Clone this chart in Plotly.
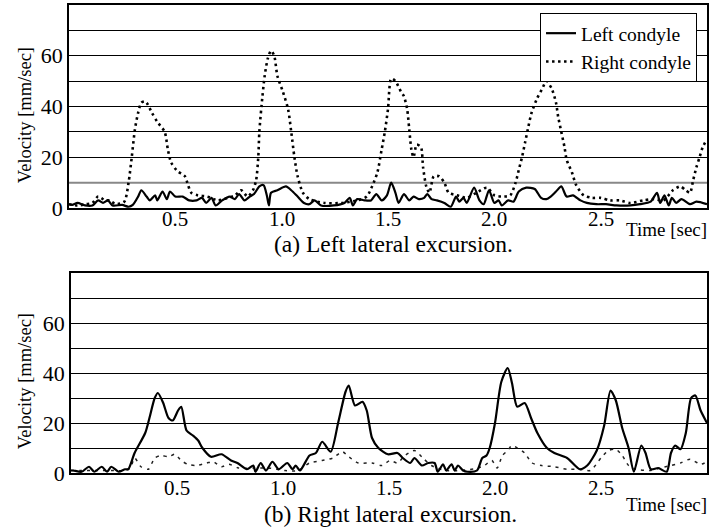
import plotly.graph_objects as go

# ---------------- data ----------------
# (a) Left lateral excursion
t_left_a = [0,0.015,0.04,0.075,0.11,0.137,0.16,0.183,0.205,0.25,0.28,0.3,0.325,0.34,0.365,0.38,0.405,0.415,0.44,0.46,
            0.475,0.5,0.535,0.565,0.6,0.625,0.645,0.67,0.69,0.72,0.755,0.78,0.8,0.825,0.85,0.87,0.895,0.915,0.93,0.94,
            0.95,0.98,1.02,1.045,1.075,1.105,1.13,1.155,1.185,1.245,1.295,1.32,1.335,1.355,1.39,1.42,1.445,1.47,1.495,1.515,
            1.535,1.55,1.575,1.6,1.62,1.645,1.67,1.685,1.705,1.73,1.765,1.795,1.82,1.835,1.855,1.87,1.905,1.93,1.95,1.975,
            2.0,2.02,2.035,2.065,2.09,2.115,2.15,2.19,2.22,2.245,2.265,2.29,2.315,2.34,2.37,2.405,2.435,2.48,2.525,2.575,
            2.64,2.685,2.735,2.765,2.78,2.8,2.82,2.835,2.855,2.88,2.92,2.95,3.0]
v_left_a = [1.5,1.2,2,1,1,3,2,3,1,1.2,0.5,1.2,4.5,7,4.5,3,5,3,6.5,3.5,
            6.5,4.5,4.5,3,3,4,2,4,1,3,4.5,3.5,5.5,3,4.5,5.5,8.5,9,5,1,
            6,7,8.5,7,4.5,2,1.5,3,1,1,2,4,1,3.5,3,3,5.5,3,5,10,
            6,2,5.5,3,4.5,3.5,4,5.5,3.5,3,2,0.5,4.5,2.5,4,2,8,3,1.5,7,
            2,3,1,3,2.5,6.5,8,7.5,4,3.5,4.5,6.5,8.5,4.5,5,3,2,1.5,1.5,1,
            1,1.5,2.5,6,2,5,1,4,2,3.5,1.5,2.5,1.5]

t_right_a = [0,0.04,0.08,0.11,0.137,0.17,0.19,0.22,0.26,0.28,0.295,0.31,0.325,0.34,0.355,0.365,0.39,0.415,0.45,0.465,
             0.48,0.51,0.545,0.56,0.575,0.605,0.65,0.7,0.745,0.78,0.81,0.84,0.865,0.88,0.89,0.895,0.905,0.92,0.935,0.95,
             0.965,0.98,1.005,1.03,1.045,1.06,1.075,1.1,1.13,1.2,1.28,1.355,1.4,1.425,1.45,1.47,1.485,1.5,1.515,1.535,
             1.56,1.575,1.59,1.6,1.61,1.62,1.635,1.655,1.665,1.68,1.695,1.715,1.74,1.765,1.785,1.825,1.87,1.915,1.965,2.0,
             2.045,2.075,2.1,2.115,2.13,2.145,2.16,2.175,2.2,2.225,2.245,2.27,2.29,2.3,2.315,2.33,2.34,2.365,2.385,2.42,
             2.46,2.5,2.545,2.59,2.64,2.7,2.75,2.795,2.84,2.875,2.9,2.92,2.935,2.95,2.965,2.98,3.0]
v_right_a = [1.5,1,1.5,2,4.5,3,3,1.5,2.5,10,20,31,37.5,41.5,42,41.5,37.5,34,30,23,
             18,14.5,12.5,9,6,5,4.5,3,4,5,7,4.5,7,11,20,30,40,52,59,62,
             60,52,46,39,30,20,12.5,6,3.5,2,2,3,4.5,8.5,14,23,30,39,51,50,
             46,44,39,31,23,20,25,24,16,8.5,6,12.5,12.5,10,6,5,4,6,8,5,
             4.5,5,10,15,20,26,32,37.5,43,47,50,47,41.5,36,30,24,19,14,9,5,
             4,4,3,3,2,3,3.5,3,7,8.5,7,6,11,16,20,24,27]

# (b) Right lateral excursion
t_left_b = [0,0.01,0.05,0.085,0.11,0.145,0.17,0.19,0.225,0.255,0.27,0.3,0.35,0.37,0.395,0.41,0.435,0.46,0.48,0.505,
            0.52,0.545,0.575,0.6,0.62,0.66,0.71,0.755,0.785,0.83,0.86,0.87,0.895,0.92,0.95,0.98,1.02,1.045,1.06,1.08,
            1.125,1.155,1.185,1.225,1.26,1.295,1.31,1.34,1.375,1.395,1.42,1.45,1.495,1.54,1.565,1.6,1.62,1.655,1.685,1.715,
            1.73,1.755,1.77,1.795,1.81,1.825,1.85,1.87,1.915,1.94,1.96,1.975,2.0,2.03,2.06,2.08,2.105,2.14,2.17,2.2,
            2.245,2.28,2.34,2.4,2.435,2.48,2.515,2.545,2.57,2.6,2.63,2.655,2.69,2.71,2.735,2.77,2.81,2.83,2.85,2.875,
            2.9,2.925,2.945,2.97,3.0]
v_left_b = [1,1,0.5,2.5,0.5,2.5,0.5,2.5,0.5,1.5,1.5,8,16,22,30,32,28,22,21,25,
            26.5,17,15,13,10,6.5,7.5,5,4,1.5,3,0.5,4,1,4.5,1.5,4,1.5,3,1,
            7,8,12.5,8.5,20,32.5,35,27,28.5,25,14,10,7.5,8,6,4,6,3,4,4,
            0.5,3.5,1,3.5,1,3,1,0.5,1,6,7,10,20,36.5,42,36,26.5,28,22,16,
            10,8,6,1.5,3,9,19,33,29,18,10,0.5,11,8,1.5,2,0.5,8,11,9.5,
            16,30,31,25,20]

t_right_b = [0,0.05,0.1,0.15,0.2,0.25,0.28,0.3,0.33,0.365,0.395,0.425,0.46,0.49,0.52,0.55,0.59,0.64,0.67,0.71,
             0.745,0.79,0.86,0.93,1.01,1.07,1.125,1.185,1.235,1.28,1.31,1.355,1.42,1.465,1.505,1.54,1.575,1.62,1.66,1.7,
             1.765,1.84,1.92,1.95,1.985,2.01,2.035,2.06,2.08,2.105,2.14,2.175,2.22,2.28,2.34,2.4,2.45,2.5,2.535,2.57,
             2.6,2.63,2.665,2.735,2.78,2.83,2.875,2.92,2.97,3.0]
v_right_b = [1,1,1,1,1,1,2,6,2.5,1.5,6,7,6.5,7.5,5,3.5,3,4,4.5,2.5,
             3.5,2,2,2,1,1,4,5,6,8.5,6.5,4,4,3,5,4,7,9,6,3,
             1,1,2,3,5,2,7,9,11,10,8,4,3,2.5,1.5,1.5,1,6,9,9.5,
             7,3,1.5,1,2,3,4,5.5,3.5,4.5]

x_tick_vals = [0.5, 1.0, 1.5, 2.0, 2.5]
x_tick_text = ["0.5", "1.0", "1.5", "2.0", "2.5"]
y_tick_vals = [0, 20, 40, 60]
y_minor_top = [30, 50, 70]          # the 10 line of panel (a) is grey
y_minor_bottom = [10, 30, 50, 70]

FONT = "'Liberation Serif', 'Times New Roman', Times, serif"

fig = go.Figure()
fig.add_trace(go.Scatter(x=t_left_a, y=v_left_a, mode="lines", name="Left condyle",
                         line=dict(color="black", width=2.2, shape="spline", smoothing=0.7),
                         xaxis="x", yaxis="y"))
fig.add_trace(go.Scatter(x=t_right_a, y=v_right_a, mode="lines", name="Right condyle",
                         line=dict(color="black", width=2.6, dash="2.5px,3.5px", shape="spline", smoothing=0.7),
                         xaxis="x", yaxis="y"))
fig.add_trace(go.Scatter(x=t_right_b, y=v_right_b, mode="lines", showlegend=False,
                         line=dict(color="#222", width=1.5, dash="3px,5px", shape="spline", smoothing=0.7),
                         xaxis="x2", yaxis="y2"))
fig.add_trace(go.Scatter(x=t_left_b, y=v_left_b, mode="lines", showlegend=False,
                         line=dict(color="black", width=2.2, shape="spline", smoothing=0.7),
                         xaxis="x2", yaxis="y2"))

xcommon = dict(range=[0, 3], tickvals=x_tick_vals, ticktext=x_tick_text, showgrid=False,
               showline=True, linecolor="black", linewidth=1.5, mirror=True, ticks="",
               zeroline=False, showticklabels=False)
ycommon = dict(range=[0, 80], tickvals=y_tick_vals, showgrid=True, gridcolor="black", gridwidth=1,
               showline=True, linecolor="black", linewidth=1.8, mirror=True, ticks="",
               zeroline=False, tickfont=dict(size=22, family=FONT, color="black"))

p_b, p_t = 54, 5
H = 527 - p_b - p_t

def py(px):
    return (527 - p_b - px) / H

def pxx(px):
    return (px - 69) / 640

fig.update_layout(
    width=710, height=527,
    margin=dict(l=69, r=1, t=p_t, b=p_b),
    paper_bgcolor="white", plot_bgcolor="white",
    font=dict(family=FONT, size=19, color="black"),
    xaxis=dict(domain=[0, 1], anchor="y", **xcommon),
    yaxis=dict(domain=[py(208), 1], anchor="x",
               minor=dict(tickvals=y_minor_top, showgrid=True, gridcolor="black", gridwidth=1),
               **ycommon),
    xaxis2=dict(domain=[pxx(71), 1], anchor="y2", **xcommon),
    yaxis2=dict(domain=[0, py(273)], anchor="x2",
                minor=dict(tickvals=y_minor_bottom, showgrid=True, gridcolor="black", gridwidth=1),
                **ycommon),
    legend=dict(x=pxx(699), y=py(13), xanchor="right", yanchor="top",
                bgcolor="white", bordercolor="black", borderwidth=1,
                font=dict(size=19.5, family=FONT), itemwidth=30, tracegroupgap=0),
    showlegend=True,
)

fig.add_shape(type="line", xref="x domain", yref="y", x0=0, x1=1, y0=10, y1=10,
              line=dict(color="#888", width=2), layer="below")

# x tick labels, placed at the tick values of each panel's x axis
for xref, ypix in (("x", 219), ("x2", 488)):
    for tv, tt in zip(x_tick_vals, x_tick_text):
        fig.add_annotation(xref=xref, yref="paper", x=tv, y=py(ypix), text=tt,
                           showarrow=False, xanchor="center", yanchor="middle",
                           font=dict(size=21, family=FONT, color="black"))

ann = [
    dict(text="Velocity [mm/sec]", x=pxx(25), y=py(115), textangle=-90, font_size=18.5),
    dict(text="Velocity [mm/sec]", x=pxx(25), y=py(381), textangle=-90, font_size=18.5),
    dict(text="Time [sec]", x=pxx(668), y=py(230), font_size=19),
    dict(text="Time [sec]", x=pxx(668), y=py(504), font_size=19),
    dict(text="(a) Left lateral excursion.", x=pxx(395), y=py(244), font_size=23.5),
    dict(text="(b) Right lateral excursion.", x=pxx(392), y=py(514), font_size=23.5),
]
for a in ann:
    fig.add_annotation(xref="paper", yref="paper", showarrow=False,
                       xanchor="center", yanchor="middle", **a)

fig.write_html("out.html", config={"displayModeBar": False},
               post_script="document.body.style.margin='0';")
